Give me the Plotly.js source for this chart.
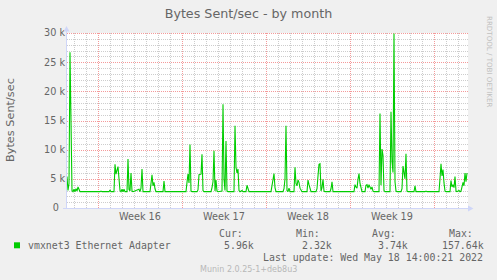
<!DOCTYPE html>
<html><head><meta charset="utf-8">
<script src="https://cdn.plot.ly/plotly-3.0.1.min.js"></script>
<style>html,body{margin:0;padding:0;background:#f0f0f0;}#chart{width:497px;height:280px;}</style>
</head><body><div id="chart"></div>
<script>
// ---- data (2-hour samples, index from 2022-04-15 08:00; values in k bytes/sec) ----
const sampleIndex = [0,1,2,3,4,5,6,7,8,9,10,11,12,13,14,
34,35,36,43,44,45,48,49,50,51,52,53,54,55,56,57,58,59,61,62,63,64,65,66,67,73,74,75,76,77,84,85,86,87,88,89,90,97,98,99,
120,121,122,123,124,125,126,131,132,133,134,135,136,137,138,145,146,147,148,149,150,151,152,156,157,158,159,160,161,162,168,169,170,171,172,173,174,176,177,180,181,182,183,
205,206,207,208,209,210,217,218,219,220,221,222,223,224,228,229,230,231,232,233,234,235,236,241,242,243,244,245,250,251,252,253,254,255,256,257,258,259,264,265,266,267,
288,289,290,291,292,293,294,295,296,299,300,301,302,303,304,305,306,307,308,313,314,315,316,317,318,319,324,325,326,327,328,329,330,331,335,336,337,338,339,340,341,342,348,349,350,359,360,361,
373,374,375,376,377,378,379,380,384,385,386,387,388,389,390,391,393,394,395,396,397,398,399,400,401];
const bytesSentK = [4.6,5.4,3.0,4.2,26.7,14,3.0,2.8,3.2,2.8,3.3,2.9,3.6,3.2,2.8,
2.8,2.9,2.8,2.8,3.1,2.8,2.8,7.5,5.8,6.6,7.1,5.0,3.0,2.8,3.2,2.8,3.2,2.8,2.8,8.4,3.2,2.9,6.0,2.9,2.8,3.2,2.8,3.4,6.7,2.8,2.8,4.2,5.7,3.8,4.4,3.3,2.8,2.8,4.6,2.8,
2.8,4.4,5.8,4.3,10.9,2.9,2.8,2.8,3.1,5.7,5.7,5.8,9.2,3.0,2.8,2.8,3.5,4.5,9.8,2.9,4.8,2.9,2.8,2.9,17.8,5.0,3.0,11.5,2.9,2.8,2.8,14.1,7.0,6.0,6.7,3.0,2.8,3.0,2.8,2.8,3.9,3.4,2.8,
2.8,3.8,4.6,5.9,3.5,2.8,2.8,3.3,5.0,14.1,3.0,2.8,3.4,2.8,2.8,7.0,4.2,3.8,4.8,4.4,3.4,3.0,2.8,2.8,4.8,4.0,3.2,2.8,2.8,3.3,5.5,7.5,7.6,2.9,3.5,4.9,2.9,2.8,2.8,3.3,4.5,2.8,
2.8,4.0,3.6,3.4,4.9,5.9,4.2,3.5,2.8,2.8,3.9,4.0,3.4,4.0,3.6,3.2,3.6,2.9,2.8,2.8,16.2,3.9,10.1,9.0,3.0,2.8,2.8,16.5,8.0,6.1,29.9,4.5,2.9,2.8,2.8,3.3,7.2,5.8,5.0,9.3,2.9,2.8,2.8,3.8,2.8,2.8,2.9,2.8,
2.8,5.0,7.6,5.5,6.6,4.3,2.9,2.8,2.8,4.7,3.6,4.0,3.5,5.4,2.9,2.8,3.0,2.8,2.9,3.6,4.4,3.8,6.0,4.5,6.0];
const seriesName = "vmxnet3 Ethernet Adapter";
const yTickVals = [0,5000,10000,15000,20000,25000,30000];
const yTickText = ["0\u00a0\u00a0","5 k","10 k","15 k","20 k","25 k","30 k"];
const weekStarts = ["2022-04-18","2022-04-25","2022-05-02","2022-05-09","2022-05-16"];
const weekLabels = ["Week 16","Week 17","Week 18","Week 19"];
const statHeaders = ["Cur:","Min:","Avg:","Max:"];
const statValues = ["5.96k","2.32k","3.74k","157.64k"];
const lastUpdate = "Last update: Wed May 18 14:00:21 2022";
const watermark = "Munin 2.0.25-1+deb8u3";
const credit = "RRDTOOL / TOBI OETIKER";

// ---- time helpers ----
const DAY = 86400000;
const startMs = Date.UTC(2022,3,15,8,0,0);
const stepMs = 2*3600*1000;
const endMs = startMs + 402*stepMs;
const fmt = ms => new Date(ms).toISOString().slice(0,19).replace('T',' ');
const xs = sampleIndex.map(i => fmt(startMs + i*stepMs));
const ys = bytesSentK.map(v => v*1000);
const weekMids = weekLabels.map((_,i) => fmt(Date.parse(weekStarts[i]+"T00:00:00Z") + 3.5*DAY));
const YMAX = 30000;

// ---- layout geometry ----
const W=497,H=280,L=66,R=29,T=33,B=72;
const PW=W-L-R, PH=H-T-B;
const px = x => (x-L)/PW;
const py = y => (H-B-y)/PH;
const FONT='DejaVu Sans', MONO='DejaVu Sans Mono', FC='#666666';
const MGRID='#f49a9a', GRID='#cdcdcd', DASH='1px,1px';
const AXIS='#CFD6F8';

// grid lines, snapped to whole pixels like rrdtool does
const shapes = [];
const timeToPx = ms => L + (ms-startMs)/(endMs-startMs)*PW;
const valToPx = v => T + PH*(1 - v/YMAX);
const vLine = (xp,color) => shapes.push({type:'line',layer:'below',xref:'paper',yref:'paper',x0:px(Math.round(xp)+0.5),x1:px(Math.round(xp)+0.5),y0:py(T),y1:py(T+PH),line:{color,width:1,dash:DASH}});
const hLine = (yp,color) => shapes.push({type:'line',layer:'below',xref:'paper',yref:'paper',x0:px(L+1),x1:px(L+PW),y0:py(Math.round(yp)+0.5),y1:py(Math.round(yp)+0.5),line:{color,width:1,dash:DASH}});
const weekMs = weekStarts.map(d => Date.parse(d+"T00:00:00Z"));
for (let d = Date.UTC(2022,3,16); d < endMs; d += DAY) if (!weekMs.includes(d)) vLine(timeToPx(d), GRID);
for (let v = 1000; v < YMAX; v += 1000) if (v % 5000) hLine(valToPx(v), GRID);
weekMs.forEach(d => vLine(timeToPx(d), MGRID));
yTickVals.filter(v => v > 0).forEach(v => hLine(valToPx(v), MGRID));

const ann = [];
weekLabels.forEach((t,i)=>ann.push({text:t,x:weekMids[i],xref:'x',y:py(216),yref:'paper',showarrow:false,xanchor:'center',yanchor:'middle',font:{family:FONT,size:9.7,color:FC}}));
ann.push({text:'Bytes Sent/sec',x:px(10.5),y:py(119.5),xref:'paper',yref:'paper',showarrow:false,textangle:-90,xanchor:'center',yanchor:'middle',font:{family:FONT,size:11.3,color:FC}});
ann.push({text:credit,x:px(490),y:py(61),xref:'paper',yref:'paper',showarrow:false,textangle:90,xanchor:'center',yanchor:'middle',font:{family:FONT,size:7.1,color:'#c0c0c0'}});
const hdrX=[216.5,294.2,370.2,446.5], valX=[222.2,300.2,376.2,440.2];
statHeaders.forEach((t,i)=>ann.push({text:t,x:px(hdrX[i]),y:py(233.3),xref:'paper',yref:'paper',showarrow:false,xanchor:'left',yanchor:'middle',font:{family:MONO,size:9.9,color:FC}}));
statValues.forEach((t,i)=>ann.push({text:t,x:px(valX[i]),y:py(245.7),xref:'paper',yref:'paper',showarrow:false,xanchor:'left',yanchor:'middle',font:{family:MONO,size:9.9,color:FC}}));
ann.push({text:seriesName,x:px(26.2),y:py(245.7),xref:'paper',yref:'paper',showarrow:false,xanchor:'left',yanchor:'middle',font:{family:MONO,size:9.9,color:FC}});
ann.push({text:lastUpdate,x:px(261.2),y:py(257.7),xref:'paper',yref:'paper',showarrow:false,xanchor:'left',yanchor:'middle',font:{family:MONO,size:9.9,color:FC}});
ann.push({text:watermark,x:px(248.5),y:py(269),xref:'paper',yref:'paper',showarrow:false,xanchor:'center',yanchor:'middle',font:{family:FONT,size:8,color:'#b8b8b8'}});

shapes.push(
 {type:'line',xref:'paper',yref:'paper',x0:px(66.5),x1:px(66.5),y0:py(209),y1:py(30),line:{color:AXIS,width:1}},
 {type:'path',xref:'paper',yref:'paper',path:`M ${px(63.5)} ${py(31.5)} L ${px(66.5)} ${py(26)} L ${px(69.5)} ${py(31.5)} Z`,fillcolor:AXIS,line:{width:0}},
 {type:'line',xref:'paper',yref:'paper',x0:px(63),x1:px(469),y0:py(208.5),y1:py(208.5),line:{color:AXIS,width:1}},
 {type:'path',xref:'paper',yref:'paper',path:`M ${px(468)} ${py(205.5)} L ${px(473.5)} ${py(208.5)} L ${px(468)} ${py(211.5)} Z`,fillcolor:AXIS,line:{width:0}},
 {type:'rect',xref:'paper',yref:'paper',x0:px(14),x1:px(20),y0:py(248.3),y1:py(242.3),fillcolor:'#00cc00',line:{width:0}}
);

const data = [{x:xs,y:ys,type:'scatter',mode:'lines',name:seriesName,line:{color:'#00cc00',width:1.1},hoverinfo:'skip'}];
const layout = {
 width:W,height:H,margin:{l:L,r:R,t:T,b:B,pad:0},
 paper_bgcolor:'#f0f0f0',plot_bgcolor:'#ffffff',showlegend:false,
 title:{text:'Bytes Sent/sec - by month',xref:'container',x:0.5,xanchor:'center',yref:'container',y:1-13.5/H,yanchor:'middle',font:{family:FONT,size:12.7,color:FC}},
 xaxis:{type:'date',range:[fmt(startMs),fmt(endMs)],showticklabels:false,ticks:'',showgrid:false,zeroline:false,showline:false,fixedrange:true},
 yaxis:{range:[0,YMAX],tickmode:'array',tickvals:yTickVals,ticktext:yTickText,ticks:'',
   tickfont:{family:FONT,size:9.7,color:FC},showgrid:false,zeroline:false,showline:false,fixedrange:true},
 annotations:ann,shapes:shapes
};
Plotly.newPlot('chart',data,layout,{staticPlot:true,displayModeBar:false});
</script></body></html>
